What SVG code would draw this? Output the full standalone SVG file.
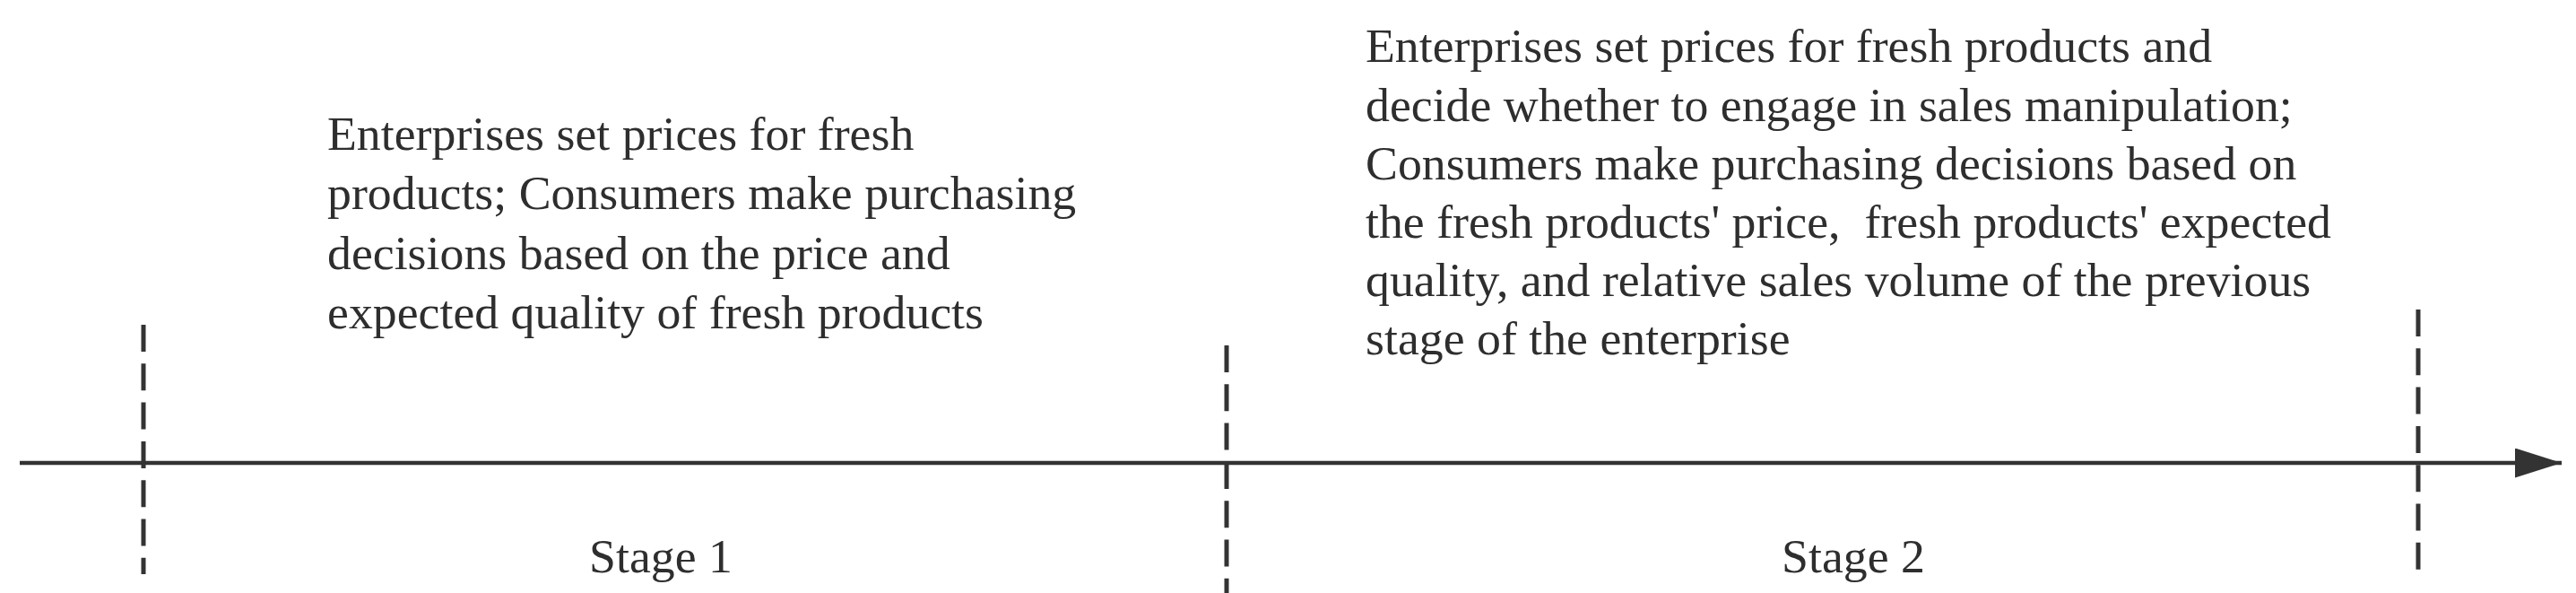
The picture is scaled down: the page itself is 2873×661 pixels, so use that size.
<svg xmlns="http://www.w3.org/2000/svg" width="2873" height="661" viewBox="0 0 2873 661">
<style>
.t{font-family:"Liberation Serif","Times New Roman",serif;font-size:53.8px;fill:#2e2e2e}
.dash{stroke:#333;stroke-width:5;stroke-dasharray:30 13.3;fill:none}
.axis{stroke:#333;stroke-width:4.5;fill:none}
</style>
<defs>
<marker id="ah" markerUnits="userSpaceOnUse" markerWidth="54" markerHeight="34" refX="52" refY="16.5" orient="auto">
<polygon points="0,0 52,16.5 0,33" fill="#333"/>
</marker>
</defs>
<rect width="2873" height="661" fill="#fff"/>
<g id="connectors">
<line class="axis" x1="22" y1="516" x2="2857" y2="516" marker-end="url(#ah)"/>
<line id="tick0" class="dash" x1="160" y1="362" x2="160" y2="640"/>
<line id="tick1" class="dash" x1="1368" y1="385" x2="1368" y2="661"/>
<line id="tick2" class="dash" x1="2697" y1="345" x2="2697" y2="640"/>
</g>
<g id="stage1-desc">
<text class="t" x="365" y="167">Enterprises set prices for fresh</text>
<text class="t" x="365" y="233">products; Consumers make purchasing</text>
<text class="t" x="365" y="299.5">decisions based on the price and</text>
<text class="t" x="365" y="366">expected quality of fresh products</text>
</g>
<g id="stage2-desc">
<text class="t" x="1523" y="69">Enterprises set prices for fresh products and</text>
<text class="t" x="1523" y="134.5">decide whether to engage in sales manipulation;</text>
<text class="t" x="1523" y="200">Consumers make purchasing decisions based on</text>
<text class="t" x="1523" y="265" xml:space="preserve">the fresh products' price,  fresh products' expected</text>
<text class="t" x="1523" y="330">quality, and relative sales volume of the previous</text>
<text class="t" x="1523" y="395">stage of the enterprise</text>
</g>
<g id="stage1-label">
<text class="t" x="737" y="638" text-anchor="middle">Stage 1</text>
</g>
<g id="stage2-label">
<text class="t" x="2067" y="638" text-anchor="middle">Stage 2</text>
</g>
</svg>
